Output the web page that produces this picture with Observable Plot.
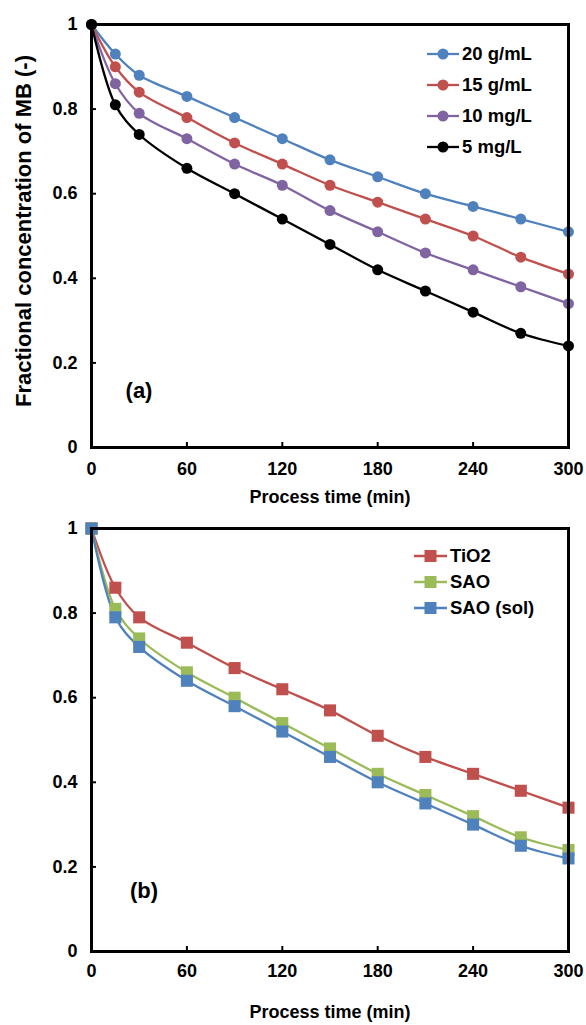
<!DOCTYPE html>
<html>
<head>
<meta charset="utf-8">
<script src="https://cdn.jsdelivr.net/npm/d3@7"></script>
<script src="https://cdn.jsdelivr.net/npm/@observablehq/plot@0.6"></script>
<style>
  html, body { margin: 0; padding: 0; background: #fff; }
  body { width: 586px; height: 1025px; position: relative; overflow: hidden;
         font-family: "Liberation Sans", Arial, sans-serif; font-weight: bold; }
  .panel { position: absolute; left: 0; }
  .legend { position: absolute; font-size: 18.5px; color: #000; }
  .legend .row { position: absolute; left: 0; display: flex; align-items: center; white-space: nowrap; }
  .legend svg { display: block; }
  .tag { position: absolute; font-size: 22px; transform: translate(-50%, -50%); }
</style>
</head>
<body>
<script>
// ---------- data ----------
const times = [0, 15, 30, 60, 90, 120, 150, 180, 210, 240, 270, 300];

// panel (a)
const seriesA = ["20 g/mL", "15 g/mL", "10 mg/L", "5 mg/L"];
const a20 = [1, 0.93, 0.88, 0.83, 0.78, 0.73, 0.68, 0.64, 0.60, 0.57, 0.54, 0.51];
const a15 = [1, 0.90, 0.84, 0.78, 0.72, 0.67, 0.62, 0.58, 0.54, 0.50, 0.45, 0.41];
const a10 = [1, 0.86, 0.79, 0.73, 0.67, 0.62, 0.56, 0.51, 0.46, 0.42, 0.38, 0.34];
const a5  = [1, 0.81, 0.74, 0.66, 0.60, 0.54, 0.48, 0.42, 0.37, 0.32, 0.27, 0.24];
const colorsA = ["#4F81BD", "#C0504D", "#8064A2", "#000000"];

// panel (b)
const seriesB = ["TiO2", "SAO", "SAO (sol)"];
const bTiO2 = [1, 0.86, 0.79, 0.73, 0.67, 0.62, 0.57, 0.51, 0.46, 0.42, 0.38, 0.34];
const bSAO  = [1, 0.81, 0.74, 0.66, 0.60, 0.54, 0.48, 0.42, 0.37, 0.32, 0.27, 0.24];
const bSol  = [1, 0.79, 0.72, 0.64, 0.58, 0.52, 0.46, 0.40, 0.35, 0.30, 0.25, 0.22];
const colorsB = ["#C0504D", "#9BBB59", "#4F81BD"];

const xTicks = [0, 60, 120, 180, 240, 300];
const yTicks = [0, 0.2, 0.4, 0.6, 0.8, 1];
const yLabel = "Fractional concentration of MB (-)";
const xLabel = "Process time (min)";
const panelTags = ["(a)", "(b)"];

// ---------- helpers ----------
function table(names, arrays) {
  const rows = [];
  names.forEach((n, i) => arrays[i].forEach((v, j) => rows.push({series: n, t: times[j], c: v})));
  return rows;
}

const FONT = '"Liberation Sans", Arial, sans-serif';

function panel({rows, names, colors, symbol, r, height, marginTop, marginBottom, xPad, xLabelDy, showYLabel}) {
  const mL = 91, mR = 18;
  const plotH = height - marginTop - marginBottom;
  const xTickLen = 5 * 300 / (586 - mL - mR);
  const yTickLen = 5 / plotH;
  const marks = [
    Plot.ruleX(xTicks.slice(1, -1), {y1: 0, y2: yTickLen, stroke: "black", strokeWidth: 2}),
    Plot.ruleY(yTicks.slice(1, -1), {x1: 0, x2: xTickLen, stroke: "black", strokeWidth: 2}),
    Plot.line(rows, {x: "t", y: "c", stroke: "series", z: "series", curve: "catmull-rom", strokeWidth: 2.3}),
    Plot.dot(rows, {x: "t", y: "c", fill: "series", symbol: () => symbol, r, stroke: "none"}),
    Plot.frame({stroke: "black", strokeWidth: 3}),
    Plot.axisX(xTicks, {tickSize: 0, tickPadding: xPad, label: null}),
    Plot.axisY(yTicks, {tickSize: 0, tickPadding: 14, label: null, tickFormat: d => String(d)}),
    Plot.text([xLabel], {frameAnchor: "bottom", dy: xLabelDy, fontSize: 18, text: d => d})
  ];
  if (showYLabel) {
    marks.push(Plot.text([yLabel], {frameAnchor: "left", textAnchor: "middle", rotate: -90, dx: -68, dy: -5, fontSize: 22, text: d => d}));
  }
  return Plot.plot({
    width: 586, height,
    marginLeft: mL, marginRight: mR, marginTop, marginBottom,
    x: {domain: [0, 300]},
    y: {domain: [0, 1]},
    color: {domain: names, range: colors},
    symbol: {type: "identity"},
    style: {fontFamily: FONT, fontSize: "18px", fontWeight: "bold", color: "black", background: "white", overflow: "visible"},
    marks
  });
}

function legend({names, colors, shape, left, top, spacing, lineW, size}) {
  const div = document.createElement("div");
  div.className = "legend";
  div.style.left = left + "px";
  div.style.top = top + "px";
  names.forEach((n, i) => {
    const row = document.createElement("div");
    row.className = "row";
    row.style.top = (i * spacing - 11) + "px";
    row.style.height = "22px";
    const ns = "http://www.w3.org/2000/svg";
    const svg = document.createElementNS(ns, "svg");
    svg.setAttribute("width", lineW + 3);
    svg.setAttribute("height", 22);
    const line = document.createElementNS(ns, "line");
    line.setAttribute("x1", 0); line.setAttribute("x2", lineW);
    line.setAttribute("y1", 11); line.setAttribute("y2", 11);
    line.setAttribute("stroke", colors[i]); line.setAttribute("stroke-width", 2.3);
    svg.appendChild(line);
    let m;
    if (shape === "circle") {
      m = document.createElementNS(ns, "circle");
      m.setAttribute("cx", lineW / 2); m.setAttribute("cy", 11); m.setAttribute("r", size);
    } else {
      m = document.createElementNS(ns, "rect");
      m.setAttribute("x", lineW / 2 - size); m.setAttribute("y", 11 - size);
      m.setAttribute("width", 2 * size); m.setAttribute("height", 2 * size);
    }
    m.setAttribute("fill", colors[i]);
    svg.appendChild(m);
    row.appendChild(svg);
    const sp = document.createElement("span");
    sp.textContent = n;
    row.appendChild(sp);
    div.appendChild(row);
  });
  return div;
}

function tag(text, x, y) {
  const d = document.createElement("div");
  d.className = "tag";
  d.style.left = x + "px"; d.style.top = y + "px";
  d.textContent = text;
  return d;
}

// ---------- panel (a) ----------
const wrapA = document.createElement("div");
wrapA.className = "panel"; wrapA.style.top = "0px";
wrapA.appendChild(panel({
  rows: table(seriesA, [a20, a15, a10, a5]),
  names: seriesA, colors: colorsA, symbol: "circle", r: 5.5,
  height: 512, marginTop: 24, marginBottom: 65, xPad: 15, xLabelDy: 55, showYLabel: true
}));
document.body.appendChild(wrapA);

// ---------- panel (b) ----------
const wrapB = document.createElement("div");
wrapB.className = "panel"; wrapB.style.top = "512px";
wrapB.appendChild(panel({
  rows: table(seriesB, [bTiO2, bSAO, bSol]),
  names: seriesB, colors: colorsB, symbol: "square", r: 6.8,
  height: 513, marginTop: 16, marginBottom: 74, xPad: 13, xLabelDy: 66, showYLabel: false
}));
document.body.appendChild(wrapB);

document.body.appendChild(legend({names: seriesA, colors: colorsA, shape: "circle", left: 427, top: 54, spacing: 31, lineW: 32, size: 5.5}));
document.body.appendChild(legend({names: seriesB, colors: colorsB, shape: "square", left: 414, top: 556, spacing: 26, lineW: 33, size: 6}));

document.body.appendChild(tag(panelTags[0], 139, 391));
document.body.appendChild(tag(panelTags[1], 144, 891));
</script>
</body>
</html>
